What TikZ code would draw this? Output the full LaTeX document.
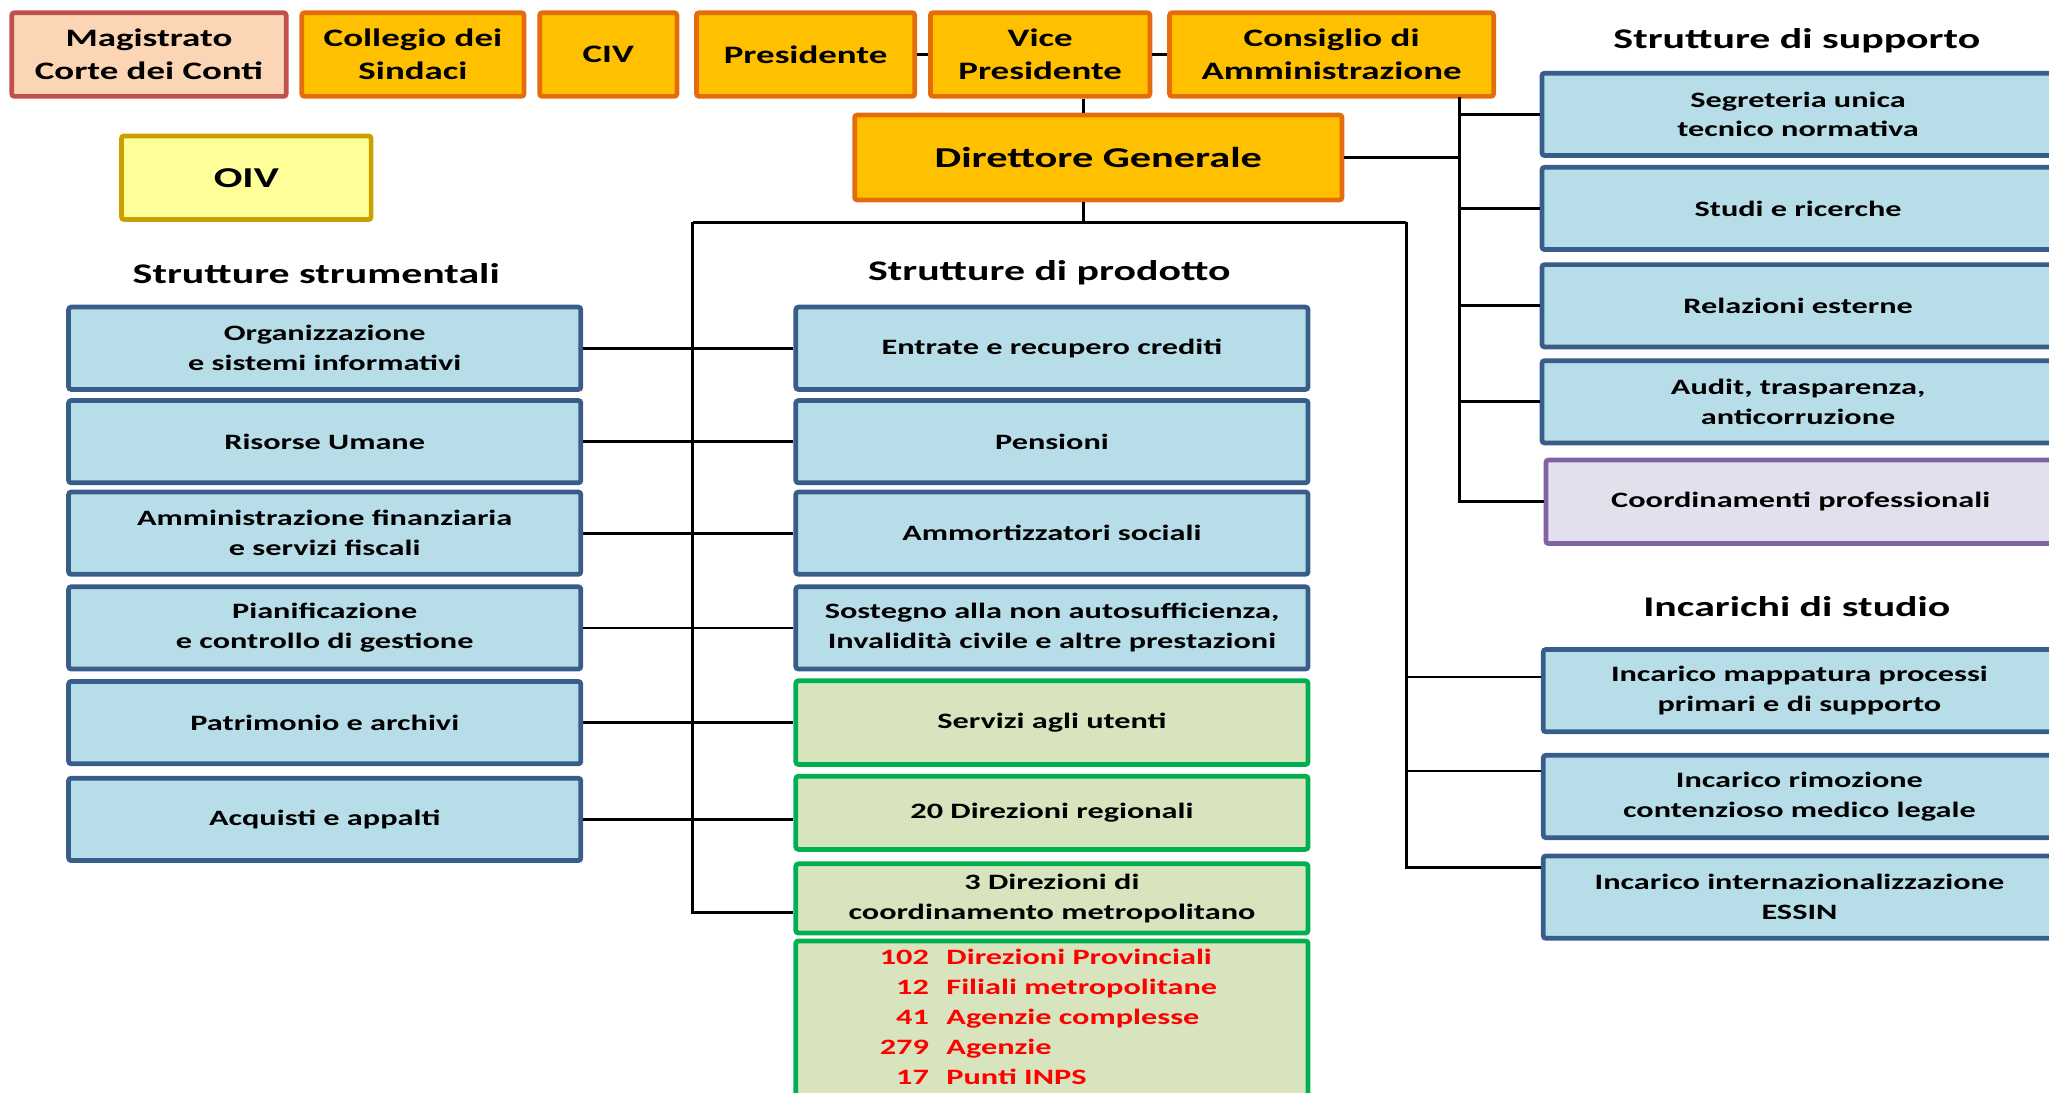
\documentclass[tikz,border=0pt]{standalone}
\usepackage{fontspec}
\setmainfont{Carlito}[FakeStretch=1.47]
\definecolor{bluefill}{HTML}{B7DEE8}
\definecolor{blueline}{HTML}{385D8A}
\definecolor{greenfill}{HTML}{D7E4BD}
\definecolor{greenline}{HTML}{00B050}
\definecolor{orangefill}{HTML}{FFC000}
\definecolor{orangeline}{HTML}{E46C0A}
\definecolor{pinkfill}{HTML}{FCD5B5}
\definecolor{pinkline}{HTML}{C0504D}
\definecolor{yellowfill}{HTML}{FFFF99}
\definecolor{yellowline}{HTML}{CC9F00}
\definecolor{purplefill}{HTML}{E4DFEC}
\definecolor{purpleline}{HTML}{8064A2}
\definecolor{listred}{HTML}{FF0000}
\newcommand\pxu{0.026136cm}
\begin{document}
\begin{tikzpicture}[x=0.026136cm, y=-0.026136cm,
        box/.style={rectangle, line width=2.7pt, rounded corners=1.5pt, inner sep=0pt, align=center, font=\fontsize{12.5}{17}\selectfont\bfseries},
        bluebox/.style={box, draw=blueline, fill=bluefill, minimum width=392*\pxu, minimum height=63*\pxu},
        greenbox/.style={box, draw=greenline, fill=greenfill, minimum width=392*\pxu},
        topbox/.style={box, draw=orangeline, fill=orangefill, minimum height=64*\pxu, font=\fontsize{14.3}{18.6}\selectfont\bfseries},
        heading/.style={inner sep=0pt, font=\fontsize{16.2}{20}\selectfont\bfseries},
        link/.style={line width=1.6pt}
    ]
    \useasboundingbox (0,0) rectangle (1568,836);
    \clip (0,0) rectangle (1568,836);
    % top row
    \node[topbox, draw=pinkline, fill=pinkfill, minimum width=210*\pxu] (mag) at (114,41.75) {Magistrato\\Corte dei Conti};
    \node[topbox, minimum width=170*\pxu] (coll) at (316,41.75) {Collegio dei\\Sindaci};
    \node[topbox, minimum width=105*\pxu] (civ) at (465.5,41.75) {CIV};
    \node[topbox, minimum width=167*\pxu] (pres) at (616.5,41.75) {Presidente};
    \node[topbox, minimum width=168*\pxu] (vice) at (796,41.75) {Vice\\Presidente};
    \node[topbox, minimum width=248*\pxu] (cda) at (1019,41.75) {Consiglio di\\Amministrazione};
    \node[topbox, draw=yellowline, fill=yellowfill, minimum width=191*\pxu, font=\fontsize{16.4}{20}\selectfont\bfseries] (oiv) at (188.5,136) {OIV};
    \node[topbox, minimum width=373*\pxu, minimum height=65*\pxu, font=\fontsize{16.4}{20}\selectfont\bfseries] (dg) at (840.5,120.5) {Direttore Generale};
    % headings
    \node[heading] (hstr) at (242,209) {Strutture strumentali};
    \node[heading] (hprod) at (803,209) {Strutture di prodotto};
    \node[heading] (hsup) at (1375,31) {Strutture di supporto};
    \node[heading] (hinc) at (1375,464) {Incarichi di studio};
    % strutture strumentali
    \node[bluebox] (org) at (248.5,266.5) {Organizzazione\\e sistemi informativi};
    \node[bluebox] (ris) at (248.5,338) {Risorse Umane};
    \node[bluebox] (amm) at (248.5,408) {Amministrazione finanziaria\\e servizi fiscali};
    \node[bluebox] (pia) at (248.5,480.5) {Pianificazione\\e controllo di gestione};
    \node[bluebox] (pat) at (248.5,553) {Patrimonio e archivi};
    \node[bluebox] (acq) at (248.5,627) {Acquisti e appalti};
    % strutture di prodotto
    \node[bluebox] (ent) at (805,266.5) {Entrate e recupero crediti};
    \node[bluebox] (pen) at (805,338) {Pensioni};
    \node[bluebox] (amo) at (805,408) {Ammortizzatori sociali};
    \node[bluebox] (sos) at (805,480.5) {Sostegno alla non autosufficienza,\\Invalidità civile e altre prestazioni};
    \node[greenbox, minimum height=64*\pxu] (ser) at (805,553) {Servizi agli utenti};
    \node[greenbox, minimum height=56*\pxu] (reg) at (805,622) {20 Direzioni regionali};
    \node[greenbox, minimum height=53*\pxu] (met) at (805,687.5) {3 Direzioni di\\coordinamento metropolitano};
    \node[greenbox, minimum height=150*\pxu] (terr) at (805,795) {};
    \node[anchor=north west, inner sep=0pt, text=listred, font=\fontsize{12.5}{17}\selectfont\bfseries] (terrlist) at (673,722) {%
        \begin{tabular}{@{}r@{\hspace{10pt}}l@{}}
        102 & Direzioni Provinciali\\
        12 & Filiali metropolitane\\
        41 & Agenzie complesse\\
        279 & Agenzie\\
        17 & Punti INPS
        \end{tabular}};
    % strutture di supporto
    \node[bluebox] (seg) at (1376,87.5) {Segreteria unica\\tecnico normativa};
    \node[bluebox] (stu) at (1376,159.5) {Studi e ricerche};
    \node[bluebox] (rel) at (1376,234) {Relazioni esterne};
    \node[bluebox] (aud) at (1376,307.5) {Audit, trasparenza,\\anticorruzione};
    \node[box, draw=purpleline, fill=purplefill, minimum width=390*\pxu, minimum height=64*\pxu] (coo) at (1378,384) {Coordinamenti professionali};
    % incarichi di studio
    \node[bluebox] (map) at (1377,528.5) {Incarico mappatura processi\\primari e di supporto};
    \node[bluebox] (rim) at (1377,609.5) {Incarico rimozione\\contenzioso medico legale};
    \node[bluebox] (ess) at (1377,686.5) {Incarico internazionalizzazione\\ESSIN};
    % connectors
    \coordinate (dgx) at (829,170);
    \coordinate (trunkl) at (530,170);
    \coordinate (trunkr) at (1076,170);
    \coordinate (metj) at (530,698);
    \coordinate (inc1) at (1076,518);
    \coordinate (inc2) at (1076,590);
    \coordinate (inc3) at (1076,664);
    \coordinate (spine) at (1117,74);
    \draw[link] (pres.east) -- (vice.west);
    \draw[link] (vice.east) -- (cda.west);
    \draw[link] (vice.south -| dgx) -- (dg.north -| dgx);
    \draw[link] (dg.south -| dgx) -- (dgx);
    \draw[link] (trunkl) -- (trunkr);
    \draw[link] (trunkl) -- (metj) -- (metj -| met.west);
    \foreach \a/\b in {org/ent, ris/pen, amm/amo, pia/sos, pat/ser}
        \draw[link] (\a.east) -- (\b.west);
    \draw[link] (acq.east) -- (acq.east -| reg.west);
    \draw[link] (trunkr) -- (inc3) -- (inc3 -| ess.west);
    \draw[link] (inc1) -- (inc1 -| map.west);
    \draw[link] (inc2) -- (inc2 -| rim.west);
    \draw[link] (spine) -- (spine |- coo.west) -- (coo.west);
    \foreach \n in {seg, stu, rel, aud}
        \draw[link] (spine |- \n.west) -- (\n.west);
    \draw[link] (dg.east) -- (dg.east -| spine);
\end{tikzpicture}
\end{document}
